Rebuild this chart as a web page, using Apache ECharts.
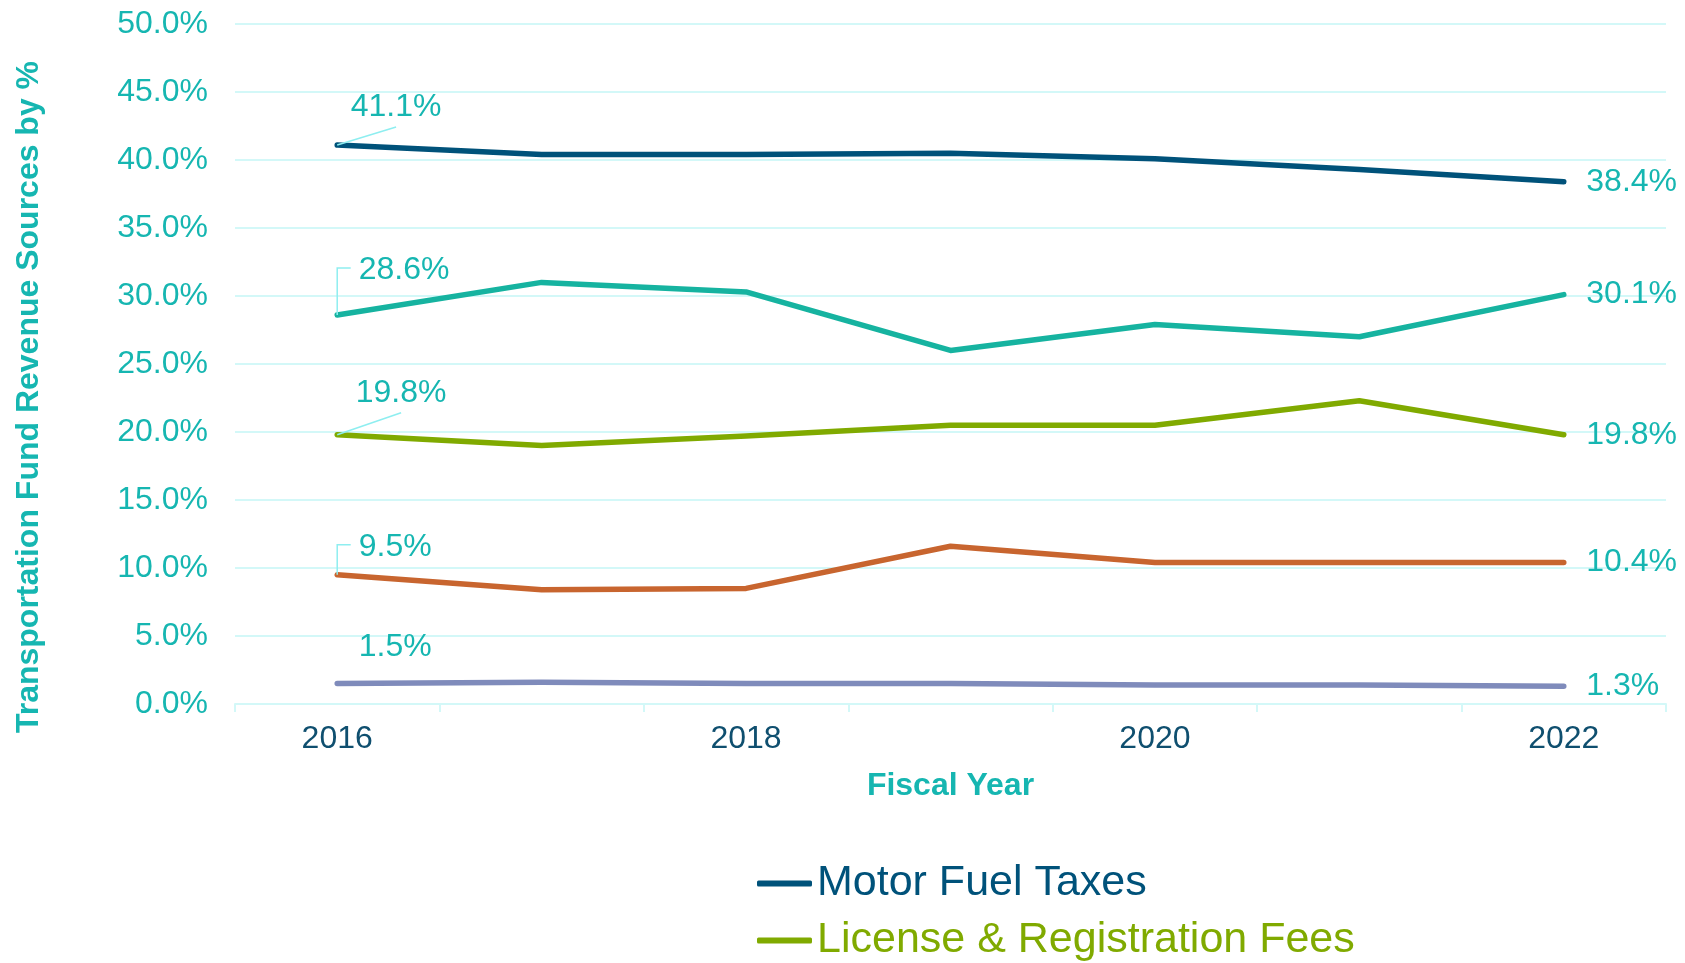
<!DOCTYPE html>
<html><head><meta charset="utf-8">
<script src="https://cdn.jsdelivr.net/npm/echarts@6/dist/echarts.min.js"></script>
<style>html,body{margin:0;padding:0;background:#fff}#c{width:1685px;height:963px}</style>
</head><body><div id="c"></div>
<script>
// ---- data ----
const years = ['2016', '2017', '2018', '2019', '2020', '2021', '2022'];
const motorFuelTaxes = [41.1, 40.4, 40.4, 40.5, 40.1, 39.3, 38.4];
const licenseRegistrationFees = [19.8, 19.0, 19.7, 20.5, 20.5, 22.3, 19.8];
const tealSource = [28.6, 31.0, 30.3, 26.0, 27.9, 27.0, 30.1];
const orangeSource = [9.5, 8.4, 8.5, 11.6, 10.4, 10.4, 10.4];
const graySource = [1.5, 1.6, 1.5, 1.5, 1.4, 1.4, 1.3];
const legendNames = ['Motor Fuel Taxes', 'License & Registration Fees'];
const yAxisTitle = 'Transportation Fund Revenue Sources by %';
const xAxisTitle = 'Fiscal Year';

const FONT = 'Liberation Sans, Arial, sans-serif';
const TEAL_TEXT = '#16b6b1';
const GRID_COLOR = '#d3f8f8';
const LEADER = '#8eeef0';

const leaderStore = {};

function buildData(values) {
  const last = values.length - 1;
  return values.map((v, i) => {
    if (i === 0) return { value: v, label: { show: true, position: 'right', distance: 0 } };
    if (i === last) return { value: v, label: { show: true, position: 'right', distance: 22 } };
    return v;
  });
}

// leader: 'diag' (to under label centre), 'elbow' (up then right), or null
function makeSeries(name, values, color, dx, dy, leader) {
  return {
    name: name,
    type: 'line',
    data: buildData(values),
    symbol: 'circle',
    symbolSize: 1,
    showSymbol: true,
    itemStyle: { color: color },
    lineStyle: { color: color, width: 5.5, cap: 'round', join: 'round' },
    label: {
      show: false,
      color: TEAL_TEXT,
      fontFamily: FONT,
      fontSize: 32,
      formatter: p => p.value.toFixed(1) + '%'
    },
    labelLine: { show: false },
    labelLayout: p => {
      if (p.dataIndex !== 0) return {};
      if (leader) {
        leaderStore[name] = {
          kind: leader,
          cx: p.rect.x + p.rect.width / 2,
          cy: p.rect.y + p.rect.height / 2,
          lx: p.labelRect.x + dx,
          ly: p.labelRect.y + dy,
          w: p.labelRect.width,
          h: p.labelRect.height
        };
      }
      return { dx: dx, dy: dy };
    },
    emphasis: { disabled: true },
    z: 3
  };
}

function legendFor(idx, color, top) {
  return {
    orient: 'vertical',
    left: 757,
    top: top,
    padding: 0,
    itemWidth: 55,
    itemHeight: 6,
    icon: 'roundRect',
    selectedMode: false,
    textStyle: { fontFamily: FONT, fontSize: 43, lineHeight: 42, color: color },
    data: [legendNames[idx]]
  };
}

const chart = echarts.init(document.getElementById('c'), null, { renderer: 'canvas' });
chart.setOption({
  animation: false,
  backgroundColor: '#ffffff',
  textStyle: { fontFamily: FONT },
  grid: { left: 235, right: 19, top: 24, bottom: 259, containLabel: false },
  legend: [legendFor(0, '#00527a', 862), legendFor(1, '#80aa00', 919)],
  xAxis: {
    type: 'category',
    data: years,
    boundaryGap: true,
    name: xAxisTitle,
    nameLocation: 'middle',
    nameGap: 66,
    nameTextStyle: { color: TEAL_TEXT, fontSize: 32, fontWeight: 'bold', fontFamily: FONT },
    axisLine: { show: true, lineStyle: { color: GRID_COLOR, width: 2 } },
    axisTick: { show: true, interval: 0, length: 8, lineStyle: { color: GRID_COLOR, width: 2 } },
    axisLabel: { interval: 1, color: '#0f4f6f', fontSize: 32, fontFamily: FONT, margin: 19 },
    splitLine: { show: false }
  },
  yAxis: {
    type: 'value',
    min: 0,
    max: 50,
    interval: 5,
    name: yAxisTitle,
    nameLocation: 'middle',
    nameGap: 190,
    nameRotate: 90,
    nameTextStyle: { color: TEAL_TEXT, fontSize: 32, fontWeight: 'bold', fontFamily: FONT, padding: [0, 66, 0, 0] },
    axisLine: { show: false },
    axisTick: { show: false },
    axisLabel: { color: TEAL_TEXT, fontSize: 32, fontFamily: FONT, margin: 27, formatter: v => v.toFixed(1) + '%' },
    splitLine: { show: true, lineStyle: { color: GRID_COLOR, width: 2 } }
  },
  series: [
    makeSeries(legendNames[0], motorFuelTaxes, '#00527a', 13, -38, 'diag'),
    makeSeries(legendNames[1], licenseRegistrationFees, '#80aa00', 18, -42, 'diag'),
    makeSeries('Revenue Source 3', tealSource, '#16b3a0', 21, -45, 'elbow'),
    makeSeries('Revenue Source 4', orangeSource, '#c8652f', 21, -28, 'elbow'),
    makeSeries('Revenue Source 5', graySource, '#7f8bbb', 21, -36, null)
  ]
});

// leader lines, built from the label/point rectangles the library laid out
const leaderElements = Object.keys(leaderStore).map(k => {
  const s = leaderStore[k];
  const midY = s.ly + s.h / 2;
  const pts = s.kind === 'diag'
    ? [[s.cx, s.cy], [s.lx + s.w * 0.5, midY + 20]]
    : [[s.cx, s.cy], [s.cx, midY - 2], [s.lx - 8, midY - 2]];
  return {
    type: 'polyline',
    shape: { points: pts },
    style: { stroke: LEADER, lineWidth: 1.5, fill: null },
    silent: true,
    z: 10
  };
});
chart.setOption({ graphic: { elements: leaderElements } });
</script>
</body></html>
